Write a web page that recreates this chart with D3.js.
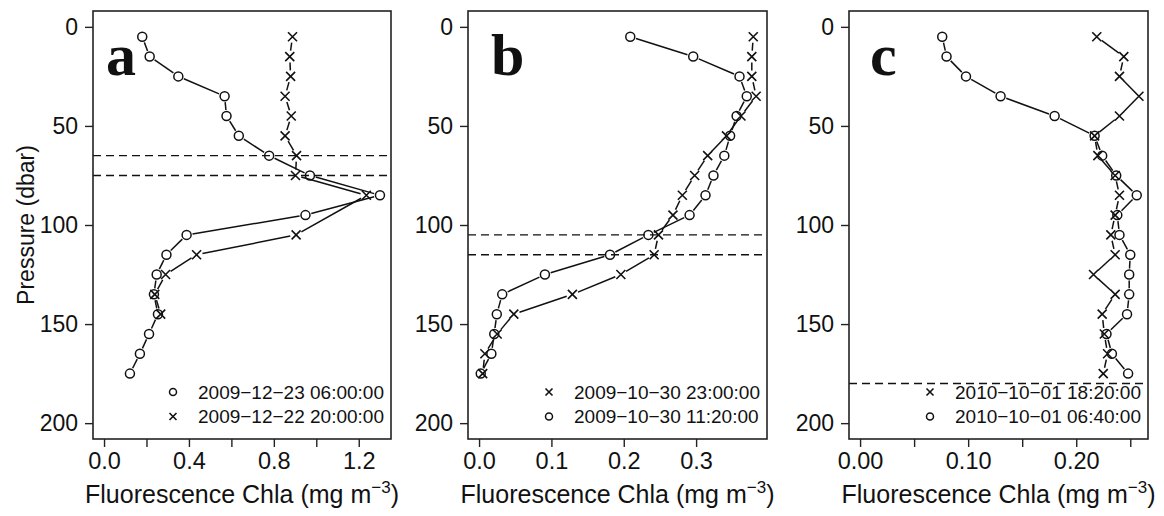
<!DOCTYPE html>
<html>
<head>
<meta charset="utf-8">
<script src="https://cdn.jsdelivr.net/npm/d3@7"></script>
<style>
  body { margin: 0; background: #fff; }
  text { font-family: "Liberation Sans", Arial, sans-serif; fill: #111; }
</style>
</head>
<body>
<svg id="chart" width="1164" height="516"></svg>
<script>
// pressure levels (dbar), shared by all profiles
var pressure = [5, 15, 25, 35, 45, 55, 65, 75, 85, 95, 105, 115, 125, 135, 145, 155, 165, 175];

// panel a
var aCircle = [0.18, 0.215, 0.35, 0.568, 0.577, 0.635, 0.778, 0.97, 1.30, 0.949, 0.389, 0.294, 0.248, 0.235, 0.254, 0.212, 0.169, 0.122];
var aCross = [0.888, 0.875, 0.879, 0.853, 0.882, 0.853, 0.907, 0.902, 1.236, null, 0.905, 0.436, 0.29, 0.239, 0.267, null, null, null];
// panel b
var bCircle = [0.209, 0.296, 0.36, 0.37, 0.356, 0.347, 0.339, 0.324, 0.313, 0.291, 0.234, 0.181, 0.091, 0.032, 0.0245, 0.021, 0.017, 0.0023];
var bCross = [0.379, 0.377, 0.377, 0.383, 0.362, 0.342, 0.316, 0.298, 0.281, 0.268, 0.248, 0.242, 0.196, 0.129, 0.048, 0.025, 0.008, 0.005];
// panel c
var cCircle = [0.076, 0.080, 0.098, 0.130, 0.180, 0.217, 0.224, 0.237, 0.256, 0.238, 0.240, 0.250, 0.249, 0.249, 0.247, 0.228, 0.233, 0.248];
var cCross = [0.219, 0.244, 0.240, 0.258, 0.240, 0.217, 0.220, 0.236, 0.240, 0.236, 0.232, 0.236, 0.216, 0.236, 0.224, 0.226, 0.229, 0.225];

// dashed reference depths
var aLines = [65, 75];
var bLines = [105, 115];
var cLines = [180];

// legend entries (symbol, label) in drawing order
var aLegend = [["circle", "2009\u221212\u221223 06:00:00"], ["cross", "2009\u221212\u221222 20:00:00"]];
var bLegend = [["cross", "2009\u221210\u221230 23:00:00"], ["circle", "2009\u221210\u221230 11:20:00"]];
var cLegend = [["cross", "2010\u221210\u221201 18:20:00"], ["circle", "2010\u221210\u221201 06:40:00"]];

// axis ticks
var yTicks = [0, 50, 100, 150, 200];
var aTicks = [0, 0.2, 0.4, 0.6, 0.8, 1.0, 1.2];
var aTickLabels = [0, 0.4, 0.8, 1.2];
var bTicks = [0, 0.1, 0.2, 0.3];
var bTickLabels = [0, 0.1, 0.2, 0.3];
var cTicks = [0, 0.05, 0.1, 0.15, 0.2, 0.25];
var cTickLabels = [0, 0.1, 0.2];

var svg = d3.select("#chart");
var top_ = 11, bottom = 439;

var y = d3.scaleLinear().domain([-8, 208]).range([top_, bottom]);

var panels = [
  {letter: "a", left: 93, right: 391, xmin: -0.052, xmax: 1.352, circle: aCircle, cross: aCross,
   lines: aLines, legend: aLegend, ticks: aTicks, labels: aTickLabels, fmt: d3.format(".1f"), lx: 106},
  {letter: "b", left: 468, right: 767, xmin: -0.0153, xmax: 0.398, circle: bCircle, cross: bCross,
   lines: bLines, legend: bLegend, ticks: bTicks, labels: bTickLabels, fmt: d3.format(".1f"), lx: 491},
  {letter: "c", left: 849, right: 1148, xmin: -0.01025, xmax: 0.2664, circle: cCircle, cross: cCross,
   lines: cLines, legend: cLegend, ticks: cTicks, labels: cTickLabels, fmt: d3.format(".2f"), lx: 870}
];

var gap = 6; // type="b" gap around points
var ink = "#111";

function drawSymbol(g, kind, cx, cy, s) {
  if (kind == "circle") {
    g.append("circle").attr("cx", cx).attr("cy", cy).attr("r", s)
      .attr("fill", "none").attr("stroke", ink).attr("stroke-width", 1.5);
  } else {
    g.append("path")
      .attr("d", "M" + (cx - s) + "," + (cy - s) + "L" + (cx + s) + "," + (cy + s) +
                 "M" + (cx - s) + "," + (cy + s) + "L" + (cx + s) + "," + (cy - s))
      .attr("stroke", ink).attr("stroke-width", 1.6).attr("fill", "none");
  }
}

function drawProfile(g, x, values, kind) {
  var pts = [];
  values.forEach(function(v, i) {
    if (v != null) pts.push([x(v), y(pressure[i])]);
  });
  // segments with gaps around the points
  for (var i = 0; i < pts.length - 1; i++) {
    var p0 = pts[i], p1 = pts[i + 1];
    var dx = p1[0] - p0[0], dy = p1[1] - p0[1];
    var len = Math.sqrt(dx * dx + dy * dy);
    if (len <= 2 * gap) continue;
    var ux = dx / len, uy = dy / len;
    g.append("line")
      .attr("x1", p0[0] + ux * gap).attr("y1", p0[1] + uy * gap)
      .attr("x2", p1[0] - ux * gap).attr("y2", p1[1] - uy * gap)
      .attr("stroke", ink).attr("stroke-width", 1.5);
  }
  pts.forEach(function(p) { drawSymbol(g, kind, p[0], p[1], 4.5); });
}

panels.forEach(function(P) {
  var g = svg.append("g");
  var x = d3.scaleLinear().domain([P.xmin, P.xmax]).range([P.left, P.right]);

  // dashed lines
  P.lines.forEach(function(d) {
    g.append("line").attr("x1", P.left).attr("x2", P.right)
      .attr("y1", y(d)).attr("y2", y(d))
      .attr("stroke", ink).attr("stroke-width", 1.4).attr("stroke-dasharray", "8,5");
  });

  drawProfile(g, x, P.circle, "circle");
  drawProfile(g, x, P.cross, "cross");

  // box
  g.append("rect").attr("x", P.left).attr("y", top_)
    .attr("width", P.right - P.left).attr("height", bottom - top_)
    .attr("fill", "none").attr("stroke", "#222").attr("stroke-width", 1.6);

  // y axis
  var ya = d3.axisLeft(y).tickValues(yTicks).tickSize(8).tickPadding(7).tickFormat(d3.format("d"));
  var yg = g.append("g").attr("transform", "translate(" + P.left + ",0)").call(ya);
  yg.select(".domain").remove();
  yg.selectAll("line").attr("stroke", "#222").attr("stroke-width", 1.4);
  yg.selectAll("text").style("font-size", "23px").style("font-family", "Liberation Sans, Arial, sans-serif").attr("fill", ink);

  // x axis
  var xa = d3.axisBottom(x).tickValues(P.ticks).tickSize(8).tickPadding(5)
    .tickFormat(function(d) {
      return P.labels.some(function(l) { return Math.abs(l - d) < 1e-9; }) ? P.fmt(d) : "";
    });
  var xg = g.append("g").attr("transform", "translate(0," + bottom + ")").call(xa);
  xg.select(".domain").remove();
  xg.selectAll("line").attr("stroke", "#222").attr("stroke-width", 1.4);
  xg.selectAll("text").style("font-size", "23.5px").style("font-family", "Liberation Sans, Arial, sans-serif").attr("fill", ink);

  // x title
  var t = g.append("text").attr("x", (P.left + P.right) / 2).attr("y", 503)
    .attr("text-anchor", "middle").style("font-size", "25px");
  t.append("tspan").text("Fluorescence Chla (mg m");
  t.append("tspan").attr("dy", -10).style("font-size", "17px").text("\u22123");
  t.append("tspan").attr("dy", 10).text(")");

  // panel letter
  g.append("text").attr("x", P.lx).attr("y", 75)
    .style("font-family", "Liberation Serif, Times New Roman, serif")
    .style("font-weight", "bold").style("font-size", "60px").text(P.letter);

  // legend
  var symX = P.right - 218, txtX = P.right - 193;
  P.legend.forEach(function(L, i) {
    var ly = 392 + i * 24.5;
    drawSymbol(g, L[0], symX, ly, 3.5);
    g.append("text").attr("x", txtX).attr("y", ly).attr("dy", "0.36em")
      .style("font-size", "19px").text(L[1]);
  });
});

// y title
svg.append("text").attr("transform", "translate(34,225) rotate(-90)")
  .attr("text-anchor", "middle").style("font-size", "23px").text("Pressure (dbar)");
</script>
</body>
</html>
